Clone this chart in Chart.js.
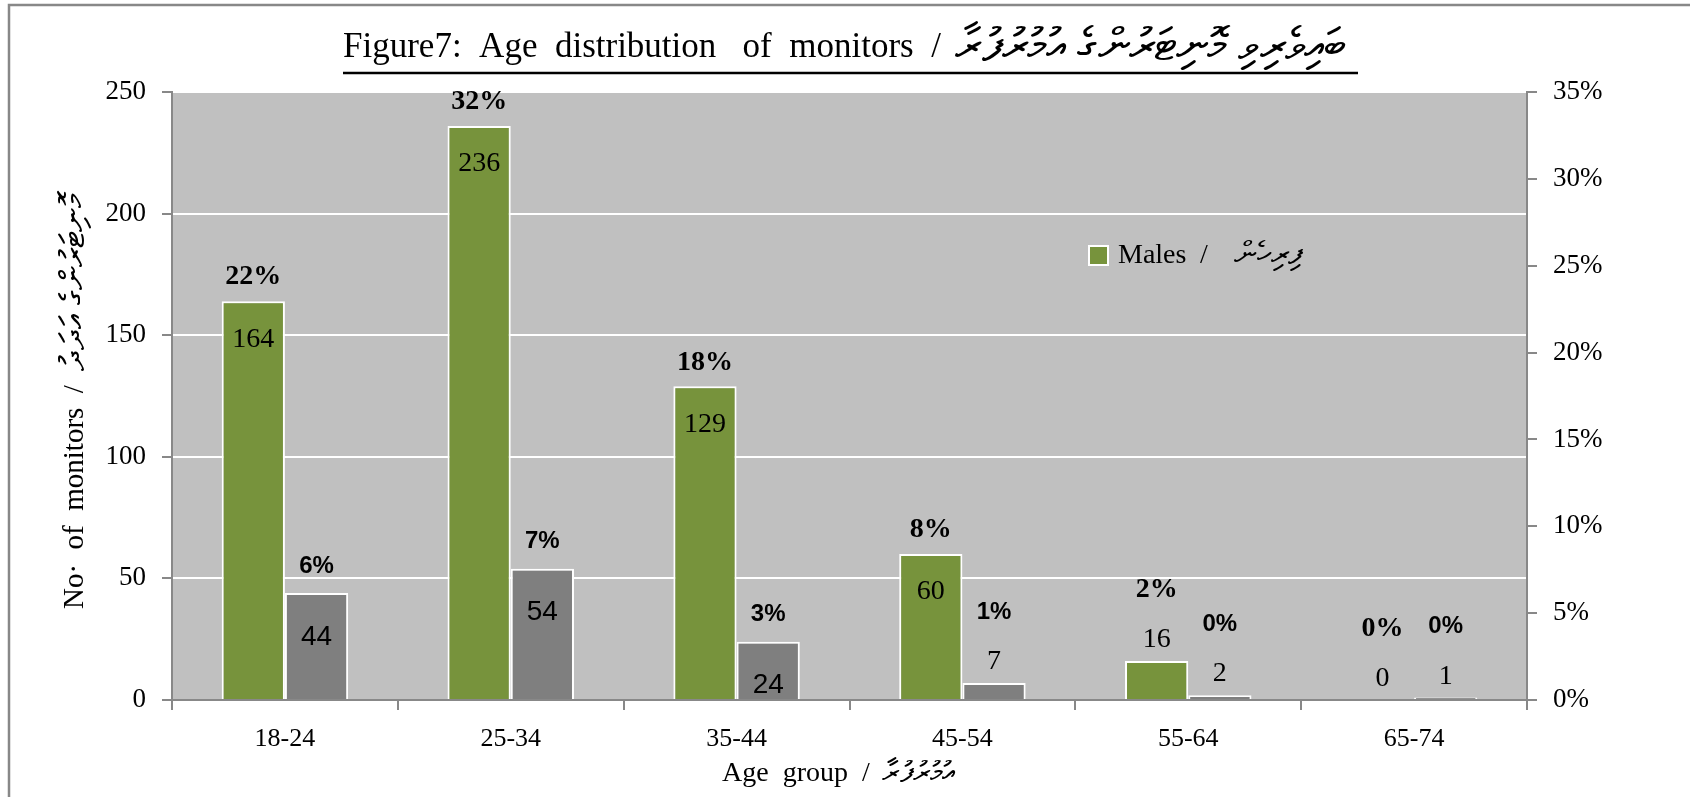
<!DOCTYPE html>
<html>
<head>
<meta charset="utf-8">
<script src="https://cdn.jsdelivr.net/npm/chart.js@4/dist/chart.umd.min.js"></script>
<style>
  html, body { margin: 0; padding: 0; background: #fff; overflow: hidden; }
  #wrap { position: absolute; left: 0; top: 0; width: 1690px; height: 797px; }
</style>
</head>
<body>
<div id="wrap"><canvas id="ageChart" width="1690" height="797"></canvas></div>
<script>
// data
var ageGroups = ['18-24', '25-34', '35-44', '45-54', '55-64', '65-74'];
var males = [164, 236, 129, 60, 16, 0];
var females = [44, 54, 24, 7, 2, 1];
var malePct = [22, 32, 18, 8, 2, 0];
var femalePct = [6, 7, 3, 1, 0, 0];
var leftTicks = [0, 50, 100, 150, 200, 250];
var rightTicks = [0, 5, 10, 15, 20, 25, 30, 35];

var titleLatin = 'Figure7:  Age  distribution   of  monitors  /';
var titleDv = 'ބައިވެރިވި މޮނިޓަރުންގެ އުމުރުފުރާ';
var yLatin = 'No·  of  monitors  /';
var yDv = 'މޮނިޓަރުންގެ އަދަދު';
var xLatin = 'Age  group  /';
var xDv = 'އުމުރުފުރާ';
var legLatin = 'Males';
var legDv = 'ފިރިހެން';

var serif = '"Liberation Serif", "Times New Roman", serif';
var sans = '"Liberation Sans", Arial, sans-serif';

// latin part, then the dhivehi part a bit bigger after a gap
function pair(c, latin, dv, x, y, size, dvSize, gap) {
  c.font = size + 'px ' + serif;
  c.fillText(latin, x, y);
  var w = c.measureText(latin).width;
  c.font = dvSize + 'px ' + serif;
  c.fillText(dv, x + w + gap, y);
}

var decor = {
  id: 'decor',
  beforeDraw: function(chart) {
    var c = chart.ctx, a = chart.chartArea;
    c.save();
    c.strokeStyle = '#888';
    c.lineWidth = 2.5;
    c.strokeRect(9, 5, 1700, 900);
    c.fillStyle = '#c0c0c0';
    c.fillRect(a.left, a.top, a.right - a.left, a.bottom - a.top);
    c.restore();
  },
  afterDraw: function(chart) {
    var c = chart.ctx;
    c.save();
    c.fillStyle = '#000';
    c.textAlign = 'left';
    c.textBaseline = 'middle';

    // title + underline
    pair(c, titleLatin, titleDv, 343, 48, 35, 46, 14);
    c.strokeStyle = '#000';
    c.lineWidth = 2.5;
    c.beginPath();
    c.moveTo(343, 73);
    c.lineTo(1358, 73);
    c.stroke();

    // axis titles
    pair(c, xLatin, xDv, 722, 774, 28, 30, 12);
    c.save();
    c.translate(75, 609);
    c.rotate(-Math.PI / 2);
    pair(c, yLatin, yDv, 0, 0, 29, 34, 14);
    c.restore();

    // legend (males only)
    c.fillStyle = '#77933c';
    c.fillRect(1089, 246, 19, 19);
    c.strokeStyle = '#fff';
    c.lineWidth = 2;
    c.strokeRect(1089, 246, 19, 19);
    c.fillStyle = '#000';
    c.font = '28px ' + serif;
    c.fillText(legLatin, 1118, 256);
    c.fillText('/', 1200, 256);
    c.font = '32px ' + serif;
    c.fillText(legDv, 1234, 256);

    // data labels
    c.textAlign = 'center';
    [0, 1].forEach(function(ds) {
      var meta = chart.getDatasetMeta(ds);
      var vals = ds === 0 ? males : females;
      var pcts = ds === 0 ? malePct : femalePct;
      meta.data.forEach(function(bar, i) {
        var top = bar.y, h = bar.base - bar.y;
        var countY, pctY;
        if (h > 40) {
          countY = top + (ds === 0 ? 38 : 44);
          pctY = top - (ds === 0 ? 24 : 27);
        } else {
          countY = top - 21;
          pctY = countY - 50;
        }
        c.fillStyle = '#000';
        if (ds === 1 && vals[i] >= 20) {
          c.font = '28px ' + sans;
        } else {
          c.font = '28px ' + serif;
        }
        c.fillText(String(vals[i]), bar.x, countY);
        c.font = ds === 0 ? 'bold 28px ' + serif : 'bold 24px ' + sans;
        c.fillText(pcts[i] + '%', bar.x, pctY);
      });
    });
    c.restore();
  }
};

new Chart(document.getElementById('ageChart'), {
  type: 'bar',
  data: {
    labels: ageGroups,
    datasets: [
      { label: 'Males', data: males, backgroundColor: '#77933c', borderColor: '#fff', borderWidth: 2, yAxisID: 'y' },
      { label: 'Females', data: females, backgroundColor: '#7f7f7f', borderColor: '#fff', borderWidth: 2, yAxisID: 'y' }
    ]
  },
  options: {
    responsive: false,
    animation: false,
    events: [],
    layout: { padding: { top: 92 } },
    datasets: { bar: { categoryPercentage: 0.56, barPercentage: 1 } },
    plugins: { legend: { display: false }, tooltip: { enabled: false }, title: { display: false } },
    scales: {
      x: {
        afterFit: function(s) { s.height = 97; },
        grid: { offset: true, drawOnChartArea: false, drawTicks: true, tickLength: 10, tickColor: '#888', lineWidth: 2 },
        border: { color: '#888', width: 2 },
        ticks: { color: '#000', font: { family: serif, size: 26 }, padding: 14 }
      },
      y: {
        position: 'left',
        min: 0, max: 250,
        afterFit: function(s) { s.width = 172; },
        afterBuildTicks: function(s) { s.ticks = leftTicks.map(function(v) { return { value: v }; }); },
        grid: { color: '#fff', lineWidth: 2, tickColor: '#888', tickLength: 10 },
        border: { color: '#888', width: 2 },
        ticks: { color: '#000', font: { family: serif, size: 27 }, padding: 16 }
      },
      y2: {
        position: 'right',
        min: 0, max: 0.35,
        afterFit: function(s) { s.width = 163; },
        afterBuildTicks: function(s) { s.ticks = rightTicks.map(function(v) { return { value: v / 100 }; }); },
        grid: { drawOnChartArea: false, tickColor: '#888', tickLength: 10, lineWidth: 2 },
        border: { color: '#888', width: 2 },
        ticks: {
          color: '#000', font: { family: serif, size: 27 }, padding: 16,
          callback: function(v) { return Math.round(v * 100) + '%'; }
        }
      }
    }
  },
  plugins: [decor]
});
</script>
</body>
</html>
